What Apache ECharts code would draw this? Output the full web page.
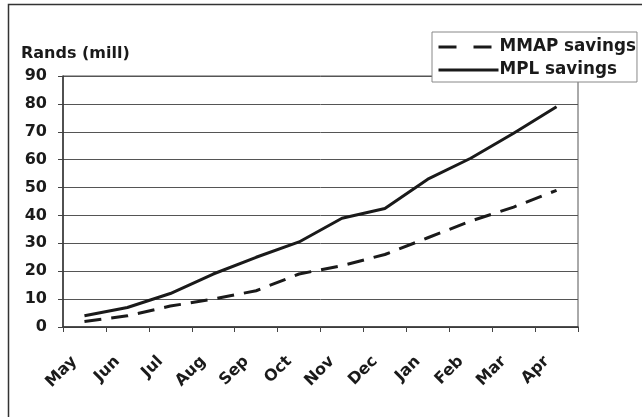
<!DOCTYPE html>
<html>
<head>
<meta charset="utf-8">
<script src="https://cdn.jsdelivr.net/npm/echarts@6/dist/echarts.min.js"></script>
<style>
  html, body { margin: 0; padding: 0; background: #fff; }
  #chart { width: 642px; height: 417px; }
</style>
</head>
<body>
<div id="chart"></div>
<script>
// Monthly cumulative savings, in millions of rands
const months = ['May', 'Jun', 'Jul', 'Aug', 'Sep', 'Oct', 'Nov', 'Dec', 'Jan', 'Feb', 'Mar', 'Apr'];
const mmapSavings = [2, 4, 7.5, 10, 13, 19, 22, 26, 32, 38, 43, 49];
const mplSavings = [4, 7, 12, 19, 25, 30.5, 39, 42.5, 53, 60.5, 69.5, 79];
const yTicks = [0, 10, 20, 30, 40, 50, 60, 70, 80, 90];

const FONT = '"DejaVu Sans", "Liberation Sans", Arial, sans-serif';
const INK = '#1a1a1a';

const chart = echarts.init(document.getElementById('chart'), null, { renderer: 'canvas' });

chart.setOption({
  animation: false,
  backgroundColor: '#fff',
  textStyle: { fontFamily: FONT, color: INK },
  grid: {
    left: 63, right: 64, top: 76, bottom: 90, containLabel: false,
    show: true, borderColor: '#555', borderWidth: 1
  },
  graphic: [
    {
      type: 'rect',
      shape: { x: 8.5, y: 4.5, width: 700, height: 460 },
      style: { fill: 'none', stroke: '#333', lineWidth: 1.5 },
      silent: true
    },
    {
      type: 'text',
      left: 21, top: 46,
      style: { text: 'Rands (mill)', font: 'bold 16px ' + FONT, fill: INK }
    }
  ],
  legend: {
    orient: 'vertical',
    left: 432, top: 32,
    padding: [5, 1, 2, 5],
    itemGap: 3,
    itemWidth: 60,
    itemHeight: 14,
    backgroundColor: '#fff',
    borderColor: '#888',
    borderWidth: 1,
    itemStyle: { opacity: 0 },
    textStyle: {
      fontFamily: FONT, fontWeight: 'bold', fontSize: 16.8, lineHeight: 20,
      color: INK, padding: [0, 0, 0, -4]
    },
    data: [
      { name: 'MMAP savings', lineStyle: { type: [18, 17], width: 3 } },
      { name: 'MPL savings', lineStyle: { width: 3 } }
    ]
  },
  xAxis: {
    type: 'category',
    data: months,
    boundaryGap: true,
    axisLine: { lineStyle: { color: '#333', width: 1.5 } },
    axisTick: { show: true, length: 5, alignWithLabel: false, lineStyle: { color: '#444' } },
    axisLabel: {
      rotate: 45,
      interval: 0,
      margin: 22,
      padding: [0, 14, 0, 0],
      fontFamily: FONT, fontWeight: 'bold', fontSize: 16, color: INK
    },
    splitLine: { show: false }
  },
  yAxis: {
    type: 'value',
    min: yTicks[0],
    max: yTicks[yTicks.length - 1],
    interval: yTicks[1] - yTicks[0],
    axisLine: { show: true, lineStyle: { color: '#333', width: 1.5 } },
    axisTick: { show: true, length: 5, lineStyle: { color: '#444' } },
    axisLabel: {
      margin: 16,
      fontFamily: FONT, fontWeight: 'bold', fontSize: 16, color: INK
    },
    splitLine: { show: true, lineStyle: { color: '#555', width: 1 } }
  },
  series: [
    {
      name: 'MMAP savings',
      type: 'line',
      data: mmapSavings,
      symbol: 'none',
      color: INK,
      lineStyle: { color: INK, width: 3, type: [17, 10] }
    },
    {
      name: 'MPL savings',
      type: 'line',
      data: mplSavings,
      symbol: 'none',
      color: INK,
      lineStyle: { color: INK, width: 3, type: 'solid' }
    }
  ]
});
</script>
</body>
</html>
